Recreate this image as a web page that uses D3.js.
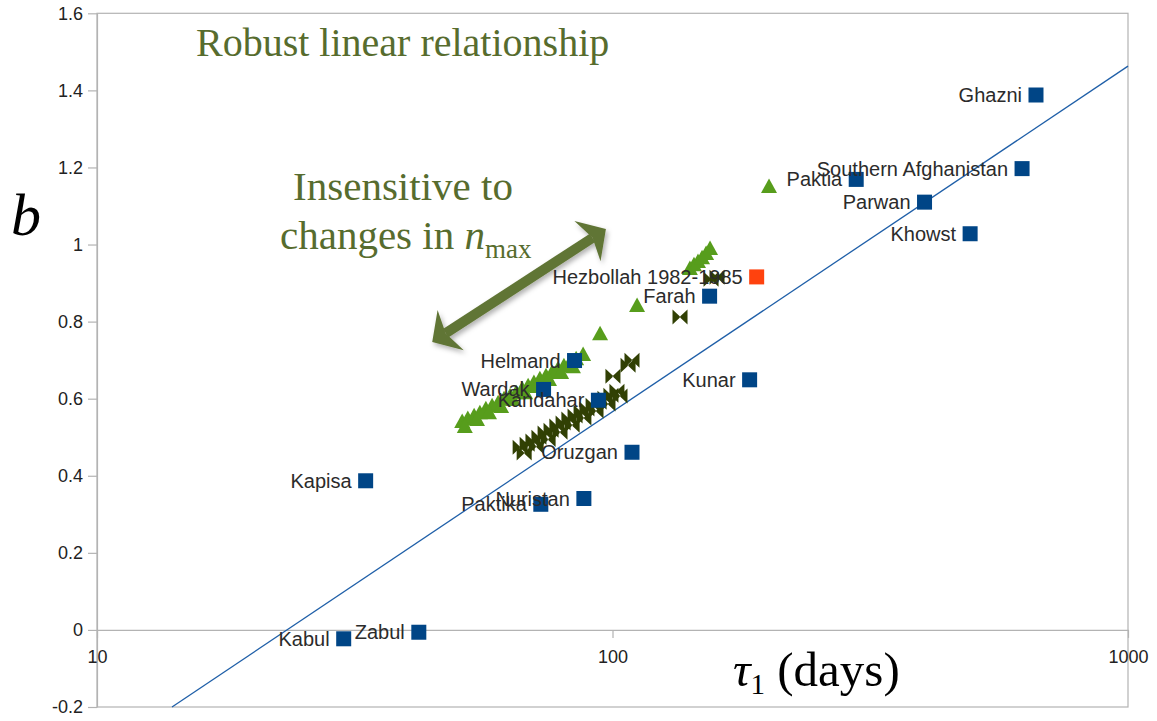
<!DOCTYPE html>
<html><head><meta charset="utf-8">
<script src="https://cdn.jsdelivr.net/npm/d3@7"></script>
<style>body{margin:0;background:#fff}</style>
</head><body>
<svg id="c" width="1157" height="721"></svg>
<script>
// ---- tick labels ----
const xTickValues = [10, 100, 1000];
const xTickLabels = ["10", "100", "1000"];
const yTickValues = [-0.2, 0, 0.2, 0.4, 0.6, 0.8, 1, 1.2, 1.4, 1.6];
const yTickLabels = ["-0.2", "0", "0.2", "0.4", "0.6", "0.8", "1", "1.2", "1.4", "1.6"];

// ---- provinces (tau1 in days, b) ----
const regionNames = ["Ghazni", "Southern Afghanistan", "Paktia", "Parwan", "Khowst", "Farah", "Kunar",
  "Helmand", "Wardak", "Kandahar", "Oruzgan", "Kapisa", "Nuristan", "Paktika", "Kabul", "Zabul"];
const regionTau = [663, 623, 297, 403, 494, 154.3, 184.5, 84.4, 73.5, 93.9, 109.1, 33.2, 88.0, 72.6, 30.1, 42.1];
const regionB = [1.388, 1.197, 1.169, 1.110, 1.028, 0.866, 0.649, 0.699, 0.624, 0.596, 0.461, 0.387, 0.341, 0.326, -0.023, -0.006];

// ---- Hezbollah ----
const hezNames = ["Hezbollah 1982-1985"];
const hezTau = [190.4];
const hezB = [0.916];

// ---- varying n_max, series 1 (triangles) ----
const triTau = [51.1, 52.4, 53.9, 55.3, 56.8, 58.4, 60.0, 61.6, 63.3, 65.0, 66.8, 68.6, 70.4, 72.3, 74.3,
  76.3, 78.4, 80.5, 82.7, 85.0, 87.7, 94.6, 111.6, 141.3, 143.9, 146.5, 149.2, 151.9, 154.6, 201.2,
  51.7, 54.6, 57.6, 60.8, 64.1, 67.7, 71.4, 75.3, 79.5, 83.8];
const triB = [0.542, 0.550, 0.557, 0.565, 0.575, 0.583, 0.591, 0.601, 0.609, 0.617, 0.627, 0.635, 0.643, 0.653, 0.661,
  0.669, 0.679, 0.687, 0.695, 0.705, 0.716, 0.770, 0.843, 0.939, 0.949, 0.957, 0.967, 0.978, 0.991, 1.152,
  0.529, 0.547, 0.565, 0.581, 0.599, 0.617, 0.633, 0.651, 0.669, 0.684];

// ---- varying n_max, series 2 (bowties) ----
const bowTau = [66.2, 68.3, 70.1, 72.0, 74.0, 76.0, 78.0, 80.2, 82.3, 84.6, 86.9, 89.2, 91.7, 94.2, 96.7,
  99.3, 102.0, 100.2, 107.2, 109.1, 135.2, 155.3, 159.5,
  67.4, 71.1, 75.0, 79.1, 83.5, 88.0, 92.9, 98.0, 103.4];
const bowB = [0.474, 0.482, 0.490, 0.500, 0.511, 0.518, 0.529, 0.537, 0.547, 0.555, 0.565, 0.573, 0.583, 0.591, 0.601,
  0.609, 0.619, 0.658, 0.687, 0.700, 0.812, 0.910, 0.915,
  0.459, 0.476, 0.494, 0.513, 0.531, 0.550, 0.568, 0.586, 0.607];

// ---- fitted line ----
const trendTau = [13.98, 1000];
const trendB = [-0.2, 1.463];

// ---- annotation arrow (data coords) ----
const arrowTau = [44.7, 97.1];
const arrowB = [0.747, 1.040];

const svg = d3.select("#c");
const x = d3.scaleLog().domain([10, 1000]).range([97, 1128]);
const y = d3.scaleLinear().domain([-0.2, 1.6]).range([707, 13.3]);

const grid = "#b3b3b3";
const sans = "'Liberation Sans', Arial, sans-serif";
const serif = "'Liberation Serif', 'Times New Roman', serif";

svg.append("rect").attr("width", 1157).attr("height", 721).attr("fill", "#fff");

// frame
svg.append("rect")
  .attr("x", x(10)).attr("y", y(1.6))
  .attr("width", x(1000) - x(10)).attr("height", y(-0.2) - y(1.6))
  .attr("fill", "none").attr("stroke", grid).attr("stroke-width", 1.2);

// y axis
const yAxis = svg.append("g").attr("transform", `translate(${x(10)},0)`)
  .call(d3.axisLeft(y).tickValues(yTickValues).tickFormat((d, i) => yTickLabels[i])
    .tickSize(9).tickSizeOuter(0).tickPadding(5));
yAxis.select(".domain").attr("stroke", grid).attr("stroke-width", 1.2);
yAxis.selectAll(".tick line").attr("stroke", grid).attr("stroke-width", 1.2);
yAxis.selectAll(".tick text").attr("font-family", sans).attr("font-size", 18).attr("fill", "#222");

// x axis at b = 0
const xAxis = svg.append("g").attr("transform", `translate(0,${y(0)})`)
  .call(d3.axisBottom(x).tickValues(xTickValues).tickFormat((d, i) => xTickLabels[i])
    .tickSize(8).tickSizeOuter(0).tickPadding(12));
xAxis.select(".domain").attr("stroke", grid).attr("stroke-width", 1.2);
xAxis.selectAll(".tick line").attr("stroke", grid).attr("stroke-width", 1.2);
xAxis.selectAll(".tick text").attr("font-family", sans).attr("font-size", 18).attr("fill", "#222");

// trend line
const trendData = trendTau.map((t, i) => [t, trendB[i]]);
svg.append("path").datum(trendData)
  .attr("d", d3.line().x(d => x(d[0])).y(d => y(d[1])))
  .attr("fill", "none").attr("stroke", "#1f5fa8").attr("stroke-width", 1.3);

// triangles
const triData = triTau.map((t, i) => [t, triB[i]]);
svg.append("g").selectAll("path").data(triData).join("path")
  .attr("transform", d => `translate(${x(d[0])},${y(d[1])})`)
  .attr("d", "M0,-7.5L8,7L-8,7Z").attr("fill", "#579d1c");

// bowties
const bowData = bowTau.map((t, i) => [t, bowB[i]]);
svg.append("g").selectAll("path").data(bowData).join("path")
  .attr("transform", d => `translate(${x(d[0])},${y(d[1])})`)
  .attr("d", "M-7.5,-7.5L0.5,0L-7.5,7.5ZM7.5,-7.5L-0.5,0L7.5,7.5Z").attr("fill", "#314004");

// squares
const regData = regionNames.map((n, i) => ({ name: n, t: regionTau[i], b: regionB[i], c: "#004586" }))
  .concat(hezNames.map((n, i) => ({ name: n, t: hezTau[i], b: hezB[i], c: "#ff420e" })));
svg.append("g").selectAll("rect").data(regData).join("rect")
  .attr("x", d => x(d.t) - 7.5).attr("y", d => y(d.b) - 7.5)
  .attr("width", 15).attr("height", 15).attr("fill", d => d.c);
svg.append("g").selectAll("text").data(regData).join("text")
  .attr("x", d => x(d.t) - 14).attr("y", d => y(d.b) + 7)
  .attr("text-anchor", "end").attr("font-family", sans).attr("font-size", 20).attr("fill", "#2b2b2b")
  .text(d => d.name);

// annotation arrow
const defs = svg.append("defs");
const f = defs.append("filter").attr("id", "sh").attr("x", "-20%").attr("y", "-20%").attr("width", "140%").attr("height", "140%");
f.append("feDropShadow").attr("dx", 2).attr("dy", 3).attr("stdDeviation", 2.5).attr("flood-color", "#000").attr("flood-opacity", 0.3);
const A = [x(arrowTau[0]), y(arrowB[0])], B = [x(arrowTau[1]), y(arrowB[1])];
const L = Math.hypot(B[0] - A[0], B[1] - A[1]);
const u = [(B[0] - A[0]) / L, (B[1] - A[1]) / L], n = [-u[1], u[0]];
const P = (p, a, b) => [p[0] + u[0] * a + n[0] * b, p[1] + u[1] * a + n[1] * b];
const arrowColor = "#617536";
const ag = svg.append("g").attr("filter", "url(#sh)");
ag.append("line")
  .attr("x1", P(A, 16, 0)[0]).attr("y1", P(A, 16, 0)[1])
  .attr("x2", P(B, -16, 0)[0]).attr("y2", P(B, -16, 0)[1])
  .attr("stroke", arrowColor).attr("stroke-width", 10);
const head = (tip, s) => [tip, P(tip, 22 * s, 24), P(tip, 16 * s, 0), P(tip, 22 * s, -24)];
ag.append("path").attr("d", "M" + head(A, 1).join("L") + "Z").attr("fill", arrowColor);
ag.append("path").attr("d", "M" + head(B, -1).join("L") + "Z").attr("fill", arrowColor);

// annotation texts
const olive = "#576c2e";
svg.append("text").attr("x", 196).attr("y", 56).attr("font-family", serif).attr("font-size", 40)
  .attr("fill", olive).text("Robust linear relationship");
svg.append("text").attr("x", 403).attr("y", 200).attr("text-anchor", "middle").attr("font-family", serif)
  .attr("font-size", 41).attr("fill", olive).text("Insensitive to");
const t2 = svg.append("text").attr("x", 280).attr("y", 249).attr("font-family", serif)
  .attr("font-size", 41).attr("fill", olive);
t2.append("tspan").text("changes in ");
t2.append("tspan").attr("font-style", "italic").text("n");
t2.append("tspan").attr("font-size", 27).attr("dy", 9).text("max");

// axis titles
svg.append("text").attr("x", 26).attr("y", 235).attr("text-anchor", "middle").attr("font-family", serif)
  .attr("font-style", "italic").attr("font-size", 60).attr("fill", "#000").text("b");
const xt = svg.append("text").attr("x", 733).attr("y", 686).attr("font-family", serif)
  .attr("font-size", 49).attr("fill", "#000");
xt.append("tspan").attr("font-style", "italic").text("τ");
xt.append("tspan").attr("font-size", 29).attr("dy", 8).text("1");
xt.append("tspan").attr("dy", -8).text(" (days)");
</script>
</body></html>
